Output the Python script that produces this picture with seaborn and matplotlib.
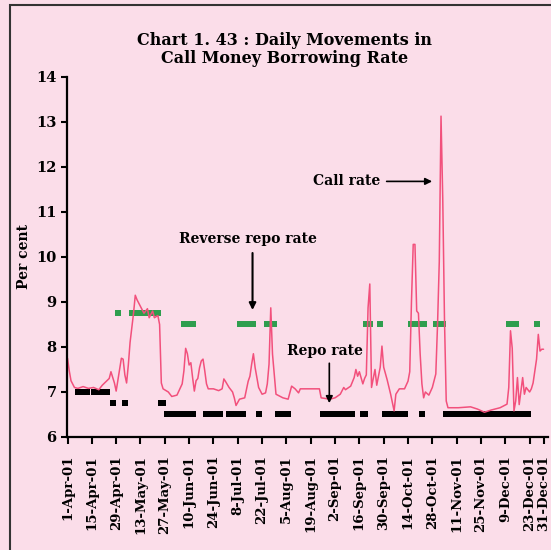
import pandas as pd
import numpy as np
import matplotlib
matplotlib.use('Agg')
import matplotlib.pyplot as plt
import matplotlib.dates as mdates
from matplotlib.patches import Rectangle
import seaborn as sns

# Days counted from 1-Apr-2001
start = pd.Timestamp('2001-04-01')

call_day = [0, 1, 2, 4, 6, 9, 12, 15, 18, 20, 24, 25, 27, 28, 30, 31, 32, 33, 34, 35,
            36, 38, 39, 40, 42, 44, 46, 47, 49, 50, 52, 53, 54, 55, 58, 60, 63, 66, 67, 68,
            69, 70, 71, 72, 73, 74, 75, 76, 77, 78, 79, 80, 81, 84, 87, 89, 90, 91, 93, 95,
            96, 97, 99, 102, 103, 104, 105, 106, 107, 108, 110, 112, 114, 115, 116, 117, 118, 119, 120, 124,
            127, 129, 131, 133, 134, 140, 145, 146, 151, 154, 157, 159, 160, 163, 165, 166, 167, 168, 170, 171,
            172, 173, 174, 175, 177, 178, 179, 180, 181, 182, 184, 186, 188, 189, 191, 194, 196, 197, 198, 199,
            200, 201, 202, 203, 204, 205, 206, 208, 210, 212, 213, 214, 215, 216, 217, 218, 219, 225, 232, 236,
            240, 244, 249, 253, 254, 255, 256, 257, 258, 259, 260, 262, 263, 264, 266, 267, 268, 269, 270, 271,
            272, 273, 274]
call_rate = [7.75, 7.47, 7.25, 7.10, 7.08, 7.12, 7.08, 7.10, 7.05, 7.15, 7.30, 7.45, 7.20, 7.02, 7.50, 7.75, 7.73, 7.38, 7.20, 7.60,
             8.10, 8.75, 9.15, 9.05, 8.90, 8.75, 8.85, 8.65, 8.80, 8.65, 8.70, 8.50, 7.20, 7.07, 7.00, 6.90, 6.93, 7.18, 7.47, 7.97,
             7.85, 7.60, 7.65, 7.32, 7.02, 7.25, 7.30, 7.54, 7.69, 7.73, 7.47, 7.18, 7.07, 7.07, 7.03, 7.07, 7.29, 7.23, 7.10, 7.00,
             6.87, 6.70, 6.84, 6.87, 7.06, 7.24, 7.35, 7.62, 7.85, 7.54, 7.10, 6.95, 6.98, 7.18, 7.62, 8.87, 7.84, 7.40, 6.95, 6.87,
             6.84, 7.13, 7.07, 6.98, 7.07, 7.07, 7.07, 6.87, 6.84, 6.87, 6.95, 7.10, 7.05, 7.13, 7.32, 7.50, 7.35, 7.45, 7.18, 7.30,
             7.38, 8.87, 9.40, 7.10, 7.50, 7.15, 7.35, 7.55, 8.02, 7.55, 7.27, 6.95, 6.58, 6.95, 7.07, 7.07, 7.24, 7.45, 9.02, 10.28,
             10.28, 8.80, 8.75, 7.84, 7.18, 6.87, 7.00, 6.93, 7.10, 7.40, 8.50, 9.90, 13.13, 11.30, 8.60, 6.80, 6.65, 6.65, 6.67, 6.62,
             6.55, 6.60, 6.65, 6.73, 7.10, 8.36, 7.97, 6.58, 6.80, 7.32, 6.72, 7.32, 6.95, 7.10, 7.00, 7.07, 7.20, 7.47, 7.73, 8.28,
             7.91, 7.95, 7.95]

rev_repo_day = [29, 37, 38, 39, 40, 41, 42, 43, 44, 45, 46, 47, 48, 49, 50, 51, 52,
                67, 68, 69, 70, 71, 72, 99, 100, 102, 103, 105, 106, 107, 115, 116, 117, 118, 119,
                172, 173, 174, 180, 198, 199, 200, 201, 202, 203, 204, 205, 212, 213, 214, 215, 216,
                254, 255, 256, 257, 258, 270]
rev_repo_rate = [8.75] * 17 + [8.5] * 41

repo_day = [6, 7, 8, 9, 10, 11, 15, 16, 17, 18, 19, 20, 21, 22, 23,
            26, 33, 54, 55,
            57, 58, 59, 60, 61, 62, 63, 64, 65, 66, 67, 70, 71, 72,
            80, 81, 82, 83, 84, 85, 86, 87, 88, 93, 94, 95, 96, 97, 98, 99, 100, 101,
            110, 121, 122, 123, 124, 125, 126, 127,
            147, 148, 149, 150, 151, 152, 153, 154, 155, 156, 157, 158, 161, 162, 163, 164, 170, 171,
            183, 184, 185, 186, 187, 188, 189, 190, 191, 192, 193, 194, 204,
            218, 219, 220, 221, 222, 223, 224, 225, 226, 227, 228, 229, 230,
            231, 232, 233, 234, 235, 236, 237, 238, 239, 240, 241, 242, 243,
            244, 245, 246, 247, 248, 249, 250, 251, 252, 253, 256, 259, 262, 263, 264, 265]
repo_rate = [7.0] * 15 + [6.75] * 4 + [6.5] * 113

tick_day = [0, 14, 28, 42, 56, 70, 84, 98, 112, 126, 140, 154, 168, 182, 196, 210,
            224, 238, 252, 266, 274]

call = pd.DataFrame({'date': start + pd.to_timedelta(call_day, unit='D'), 'rate': call_rate})
rev = pd.DataFrame({'date': start + pd.to_timedelta(rev_repo_day, unit='D'), 'rate': rev_repo_rate})
repo = pd.DataFrame({'date': start + pd.to_timedelta(repo_day, unit='D'), 'rate': repo_rate})
ticks = start + pd.to_timedelta(tick_day, unit='D')

bg = '#fbdde9'
sns.set_style('ticks')
plt.rcParams['font.family'] = ['DejaVu Serif']
plt.rcParams['font.weight'] = 'bold'
for key in ['text.color', 'axes.labelcolor', 'xtick.color', 'ytick.color']:
    plt.rcParams[key] = 'black'

fig = plt.figure(figsize=(5.51, 5.50), dpi=100, facecolor=bg)
ax = fig.add_axes([0.1216, 0.2055, 0.8730, 0.6545])
ax.set_facecolor(bg)

sns.lineplot(data=call, x='date', y='rate', color='#f2507c', linewidth=1.1, ax=ax)
sns.scatterplot(data=rev, x='date', y='rate', color='#2f9e4e', marker='s', s=15,
                linewidth=0, ax=ax)
sns.scatterplot(data=repo, x='date', y='rate', color='black', marker='s', s=13,
                linewidth=0, ax=ax)

ax.set_xlim(start - pd.Timedelta(days=0.3), start + pd.Timedelta(days=276.6))
ax.set_ylim(6, 14)
ax.set_yticks(range(6, 15))
ax.set_xticks(ticks)
ax.set_xticklabels([f"{d.day}-{d.strftime('%b-%y')}" for d in ticks],
                   rotation=90, fontsize=9.5, fontweight='bold')
ax.tick_params(axis='y', labelsize=10.5, length=4, width=1.5, direction='out')
ax.tick_params(axis='x', length=5, width=1.5, direction='out', pad=8)
ax.set_xlabel('')
ax.set_ylabel('Per cent', fontsize=10, fontweight='bold', labelpad=4)
for side in ['top', 'right']:
    ax.spines[side].set_visible(False)
for side in ['left', 'bottom']:
    ax.spines[side].set_linewidth(1.6)
    ax.spines[side].set_color('black')

# annotations
def day(n):
    return mdates.date2num(start + pd.Timedelta(days=n))

ax.annotate('Call rate', xy=(day(211.5), 11.68), xytext=(day(141.5), 11.68),
            fontsize=10, fontweight='bold', ha='left', va='center',
            arrowprops=dict(arrowstyle='-|>', color='black', lw=1.2))

ax.text(day(104), 10.4, 'Reverse repo rate', fontsize=10, fontweight='bold',
        ha='center', va='center')
ax.annotate('', xy=(day(106.5), 8.76), xytext=(day(106.5), 10.15),
            arrowprops=dict(arrowstyle='-|>', color='black', lw=1.5))

ax.text(day(148), 7.91, 'Repo rate', fontsize=10, fontweight='bold',
        ha='center', va='center')
ax.annotate('', xy=(day(150.7), 6.69), xytext=(day(150.7), 7.7),
            arrowprops=dict(arrowstyle='-|>', color='black', lw=1.2))

fig.text(0.517, 0.91, 'Chart 1. 43 : Daily Movements in\nCall Money Borrowing Rate',
         ha='center', va='center', fontsize=11.5, fontweight='bold', linespacing=1.15)

fig.patches.append(Rectangle((10 / 551, -0.05), 1.0, 0.05 + 1 - 5 / 550,
                             transform=fig.transFigure, fill=False,
                             edgecolor='#333333', linewidth=1.5))

plt.savefig('out.png', dpi=100, facecolor=bg)
plt.close('all')
